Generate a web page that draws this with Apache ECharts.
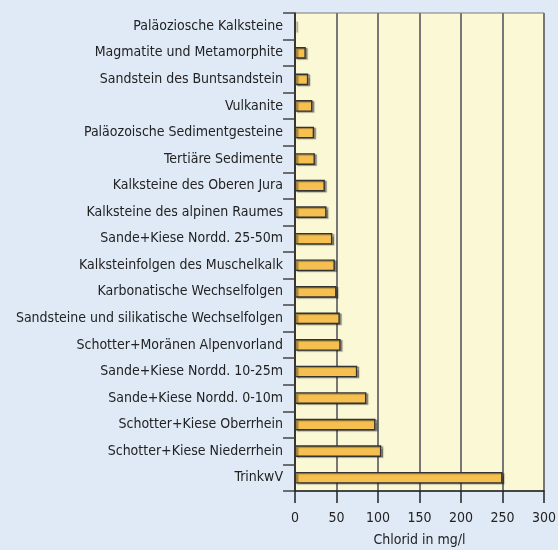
<!DOCTYPE html>
<html>
<head>
<meta charset="utf-8">
<style>
  html, body { margin: 0; padding: 0; background: #e0eaf6; }
  #chart { width: 558px; height: 550px; }
</style>
<script src="https://cdn.jsdelivr.net/npm/echarts@6/dist/echarts.min.js"></script>
</head>
<body>
<div id="chart"></div>
<script>
// Gesteinsgruppen (von oben nach unten)
const categories = [
  'Paläoziosche Kalksteine',
  'Magmatite und Metamorphite',
  'Sandstein des Buntsandstein',
  'Vulkanite',
  'Paläozoische Sedimentgesteine',
  'Tertiäre Sedimente',
  'Kalksteine des Oberen Jura',
  'Kalksteine des alpinen Raumes',
  'Sande+Kiese Nordd. 25-50m',
  'Kalksteinfolgen des Muschelkalk',
  'Karbonatische Wechselfolgen',
  'Sandsteine und silikatische Wechselfolgen',
  'Schotter+Moränen Alpenvorland',
  'Sande+Kiese Nordd. 10-25m',
  'Sande+Kiese Nordd. 0-10m',
  'Schotter+Kiese Oberrhein',
  'Schotter+Kiese Niederrhein',
  'TrinkwV'
];

// Chlorid in mg/l
const chlorid = [1, 13, 16, 21, 23, 24, 36, 38, 45, 48, 50, 54, 55, 75, 86, 97, 104, 250];

const xTicks = [0, 50, 100, 150, 200, 250, 300];

const chart = echarts.init(document.getElementById('chart'), null, { renderer: 'canvas' });

chart.setOption({
  backgroundColor: '#e0eaf6',
  animation: false,
  textStyle: { fontFamily: '"DejaVu Sans Condensed", "DejaVu Sans", sans-serif' },
  grid: { left: 295, right: 14, top: 13, bottom: 59, containLabel: false,
          outerBoundsMode: 'none',
          show: true, backgroundColor: '#fbf8d6', borderColor: '#7a7a7a', borderWidth: 1 },
  xAxis: {
    type: 'value',
    min: xTicks[0],
    max: xTicks[xTicks.length - 1],
    interval: 50,
    name: 'Chlorid in mg/l',
    nameLocation: 'middle',
    nameGap: 42,
    nameTextStyle: { fontSize: 14, color: '#222' },
    axisLine: { show: true, lineStyle: { color: '#222', width: 1.5 } },
    axisTick: { show: true, length: 12, lineStyle: { color: '#222', width: 1.5 } },
    axisLabel: { fontSize: 14, color: '#222', margin: 20 },
    splitLine: { show: true, lineStyle: { color: '#777', width: 2 } }
  },
  yAxis: {
    type: 'category',
    data: categories,
    inverse: true,
    axisLine: { show: true, lineStyle: { color: '#222', width: 1.5 } },
    axisTick: { show: true, length: 12, lineStyle: { color: '#444', width: 1.5 } },
    axisLabel: { fontSize: 14, color: '#222', margin: 12 },
    splitLine: { show: false }
  },
  series: [{
    type: 'bar',
    data: chlorid,
    barWidth: '44%',
    itemStyle: {
      color: '#f5c04f',
      borderColor: '#333',
      borderWidth: 1.4,
      shadowColor: 'rgba(0,0,0,0.35)',
      shadowOffsetX: 2,
      shadowOffsetY: 1,
      shadowBlur: 1
    }
  }]
});
</script>
</body>
</html>
